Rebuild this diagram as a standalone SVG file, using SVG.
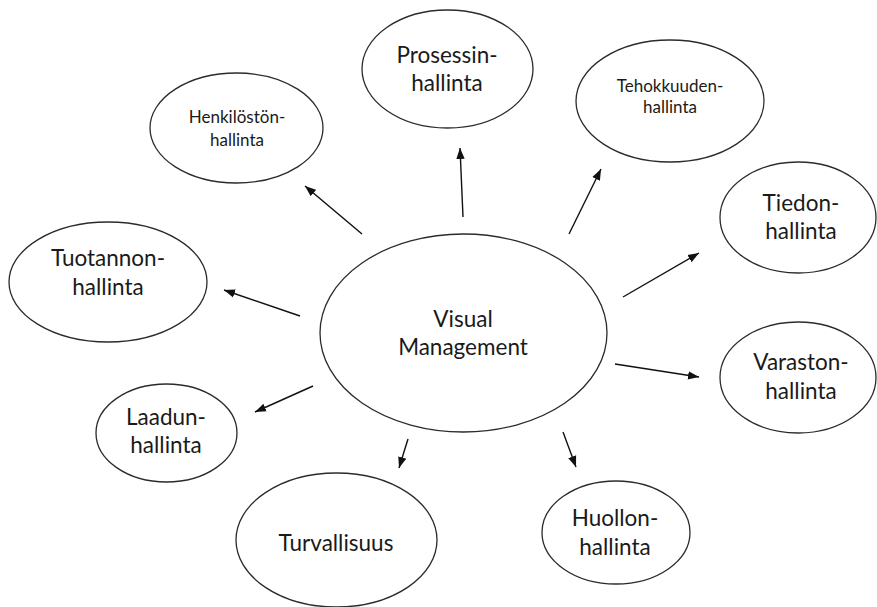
<svg xmlns="http://www.w3.org/2000/svg" width="877" height="607" viewBox="0 0 877 607">
  <style>
    .node ellipse { fill: #ffffff; stroke: #2b2b2b; stroke-width: 1.3; }
    .node text { font-family: Lato, "Open Sans", "Liberation Sans", sans-serif; fill: #1a1a1a; text-anchor: middle; }
    .big { font-size: 22.5px; }
    .small { font-size: 17px; }
    .edges line { stroke: #111111; stroke-width: 1.4; marker-end: url(#arrow); }
  </style>
  <defs>
    <marker id="arrow" markerUnits="userSpaceOnUse" markerWidth="12" markerHeight="10" viewBox="0 0 12 10" refX="11" refY="5" orient="auto">
      <path d="M0,0.8 L11,5 L0,9.2 Z" fill="#111111"/>
    </marker>
  </defs>
  <rect width="877" height="607" fill="#ffffff"/>

  <!-- connectors radiating from the central ellipse -->
  <g id="edges" class="edges">
    <line x1="463" y1="217" x2="460" y2="148"/>
    <line x1="362" y1="234" x2="305" y2="186"/>
    <line x1="569" y1="234" x2="601" y2="169"/>
    <line x1="623" y1="297" x2="699" y2="253"/>
    <line x1="300" y1="316" x2="224" y2="290"/>
    <line x1="615" y1="364" x2="699" y2="377"/>
    <line x1="313" y1="386" x2="255" y2="412"/>
    <line x1="408" y1="439" x2="399" y2="468"/>
    <line x1="563" y1="432" x2="576" y2="467"/>
  </g>

  <g id="visual-management" class="node">
    <ellipse cx="463.5" cy="333" rx="143.5" ry="99"/>
    <text class="big" x="463" y="327">Visual</text>
    <text class="big" x="463" y="355">Management</text>
  </g>

  <g id="prosessinhallinta" class="node">
    <ellipse cx="447.5" cy="69" rx="85.5" ry="59"/>
    <text class="big" x="447" y="63">Prosessin-</text>
    <text class="big" x="447" y="91">hallinta</text>
  </g>

  <g id="henkilostonhallinta" class="node">
    <ellipse cx="236.5" cy="128" rx="86.5" ry="55"/>
    <text class="small" x="237" y="123">Henkilöstön-</text>
    <text class="small" x="237" y="146">hallinta</text>
  </g>

  <g id="tehokkuudenhallinta" class="node">
    <ellipse cx="670" cy="101" rx="94" ry="61"/>
    <text class="small" x="670" y="92">Tehokkuuden-</text>
    <text class="small" x="670" y="113">hallinta</text>
  </g>

  <g id="tiedonhallinta" class="node">
    <ellipse cx="798" cy="217.5" rx="78" ry="55.5"/>
    <text class="big" x="801" y="211">Tiedon-</text>
    <text class="big" x="801" y="239">hallinta</text>
  </g>

  <g id="tuotannonhallinta" class="node">
    <ellipse cx="108" cy="282" rx="99" ry="60"/>
    <text class="big" x="108" y="266">Tuotannon-</text>
    <text class="big" x="108" y="295">hallinta</text>
  </g>

  <g id="varastonhallinta" class="node">
    <ellipse cx="798" cy="377.5" rx="78" ry="55.5"/>
    <text class="big" x="801" y="370">Varaston-</text>
    <text class="big" x="801" y="399">hallinta</text>
  </g>

  <g id="laadunhallinta" class="node">
    <ellipse cx="166.5" cy="433" rx="70.5" ry="49"/>
    <text class="big" x="166" y="425">Laadun-</text>
    <text class="big" x="166" y="453">hallinta</text>
  </g>

  <g id="turvallisuus" class="node">
    <ellipse cx="336.5" cy="540" rx="100.5" ry="67"/>
    <text class="big" x="336" y="551">Turvallisuus</text>
  </g>

  <g id="huollonhallinta" class="node">
    <ellipse cx="616" cy="532.5" rx="74" ry="51.5"/>
    <text class="big" x="615" y="526">Huollon-</text>
    <text class="big" x="615" y="555">hallinta</text>
  </g>
</svg>
